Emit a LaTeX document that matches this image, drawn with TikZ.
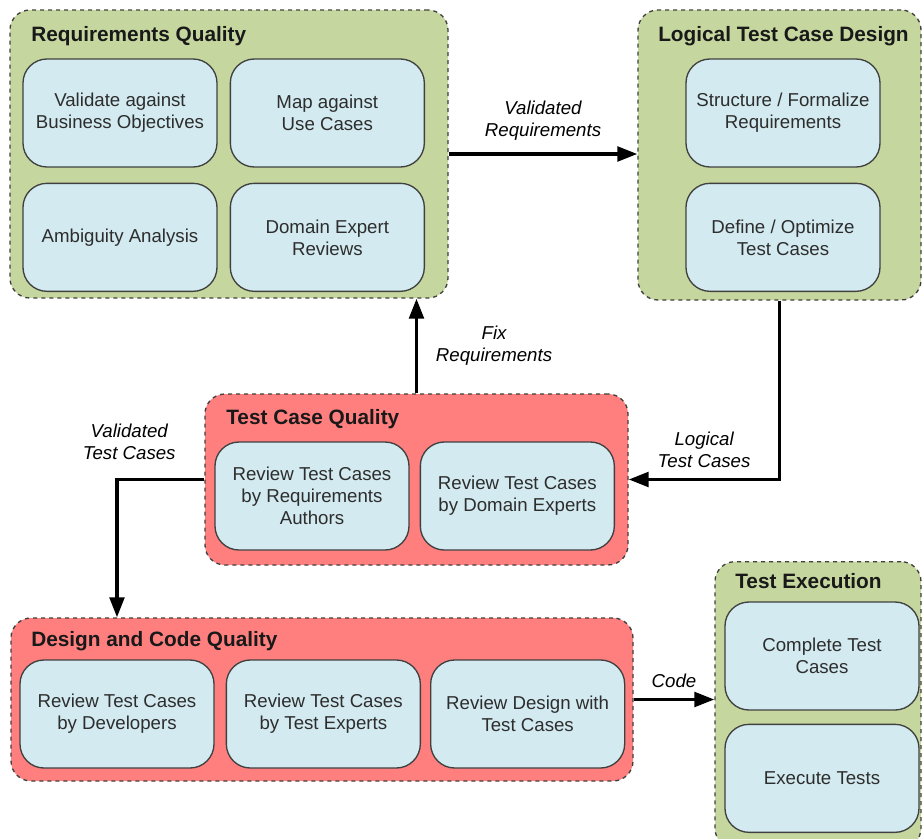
\documentclass[tikz,border=0pt]{standalone}
\usepackage{fontspec}
\setmainfont{Liberation Sans}
\usetikzlibrary{arrows.meta, positioning}

\definecolor{grpgreen}{RGB}{197,215,158}
\definecolor{grpred}{RGB}{255,127,127}
\definecolor{boxblue}{RGB}{210,234,240}
\definecolor{edgegray}{RGB}{64,64,64}
\definecolor{txtgray}{RGB}{45,45,45}

\begin{document}
\begin{tikzpicture}[
            x = 0.75pt, y = -0.75pt, % one unit = one pixel of the layout
            > = {Triangle[length=15pt, width=11pt]}, % arrow head style
            font = \fontsize{14}{16.5}\selectfont,
            text = txtgray
        ]

        \tikzstyle{group}=[
            draw = edgegray,
            dashed,
            line width = 1pt,
            rounded corners = 15pt,
            inner sep = 0pt
        ]
        \tikzstyle{title}=[
            anchor = base west,
            inner sep = 0pt,
            text = black!90,
            font = \fontsize{15.6}{18}\selectfont\bfseries
        ]
        \tikzstyle{task}=[
            draw = edgegray,
            fill = boxblue,
            line width = 1pt,
            rounded corners = 18pt,
            minimum width = 145.5pt,
            minimum height = 81pt,
            align = center,
            inner sep = 2pt
        ]
        \tikzstyle{flow}=[
            ->,
            line width = 2.5pt,
            black
        ]
        \tikzstyle{lbl}=[
            align = center,
            font = \fontsize{14}{16.5}\selectfont\itshape
        ]

        \useasboundingbox (0,0) rectangle (922,839);

	% groups
	\node[group, fill=grpgreen, minimum width=328.5pt, minimum height=216pt] (reqq) at (229,154) {};
	\node[group, fill=grpgreen, minimum width=212.25pt, minimum height=217.5pt] (logq) at (779.5,155) {};
	\node[group, fill=grpred, minimum width=317.25pt, minimum height=128.25pt] (tcq) at (416.5,479.5) {};
	\node[group, fill=grpred, minimum width=466.5pt, minimum height=122.25pt] (dcq) at (322,699.5) {};
	\node[group, fill=grpgreen, minimum width=154.5pt, minimum height=215pt] (exec) at (818,705) {};

	\node[title] (reqqt) at (31,41) {Requirements Quality};
	\node[title] (logqt) at (658,41) {Logical Test Case Design};
	\node[title] (tcqt) at (226,424) {Test Case Quality};
	\node[title] (dcqt) at (31,646) {Design and Code Quality};
	\node[title] (exect) at (735,588) {Test Execution};

	% tasks
	\node[task] (valobj) at (120,113) {Validate against\\Business Objectives};
	\node[task] (mapuc) [right=9pt of valobj] {Map against\\Use Cases};
	\node[task] (ambig) [below=11.25pt of valobj] {Ambiguity Analysis};
	\node[task] (domexp) [right=9pt of ambig] {Domain Expert\\Reviews};

	\node[task] (struct) at (783,113) {Structure / Formalize\\Requirements};
	\node[task] (defopt) [below=11.25pt of struct] {Define / Optimize\\Test Cases};

	\node[task] (rvauth) at (312,496) {Review Test Cases\\by Requirements\\Authors};
	\node[task] (rvdom) [right=7.5pt of rvauth] {Review Test Cases\\by Domain Experts};

	\node[task] (rvdev) at (117,714) {Review Test Cases\\by Developers};
	\node[task] (rvtest) [right=8.25pt of rvdev] {Review Test Cases\\by Test Experts};
	\node[task] (rvdes) [right=6.75pt of rvtest] {Review Design with\\Test Cases};

	\node[task] (complt) at (822,656) {Complete Test\\Cases};
	\node[task] (exects) [below=9.75pt of complt] {Execute Tests};

	% flows
	\draw[flow] (reqq.east) -- (reqq.east -| logq.west)
	    node[lbl, midway, above=6pt] {Validated\\Requirements};
	\draw[flow] (tcq.north) -- (tcq.north |- reqq.south)
	    node[lbl, midway, right=10pt] {Fix\\Requirements};
	\draw[flow] (logq.south) |- (tcq.east)
	    node[lbl, pos=0.75, above=4pt] {Logical\\Test Cases};
	\draw[flow] (tcq.west) -| (rvdev.north |- dcq.north)
	    node[lbl, pos=0.43, above=10pt] {Validated\\Test Cases};
	\draw[flow] (dcq.east) -- (dcq.east -| exec.west)
	    node[lbl, midway, above=4pt] {Code};

    \end{tikzpicture}
\end{document}
